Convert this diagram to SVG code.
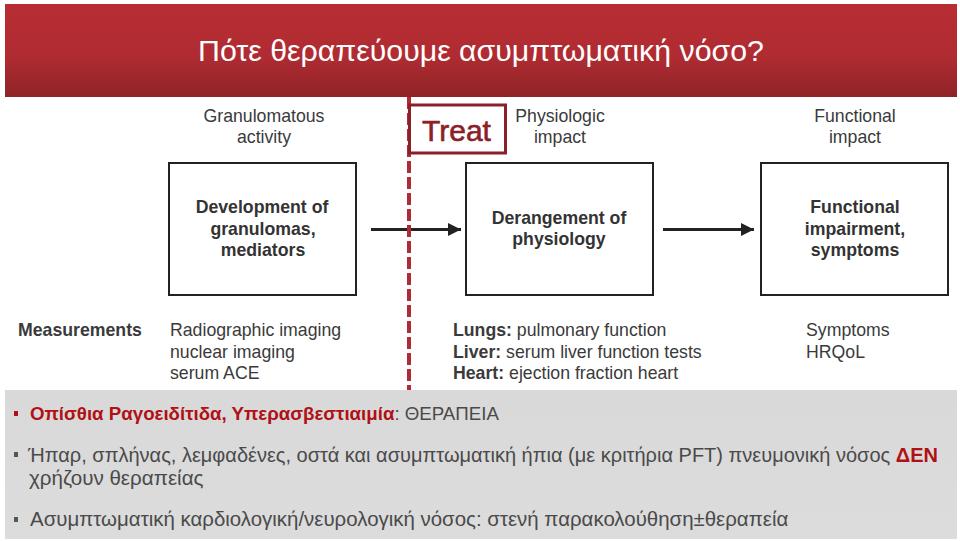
<svg xmlns="http://www.w3.org/2000/svg" width="960" height="541" viewBox="0 0 960 541">
<style>
text{font-family:"Liberation Sans",Arial,sans-serif;fill:#3a3a3a}
.h{font-size:17.700px;text-anchor:middle}
.b{font-size:17.700px;font-weight:bold;text-anchor:middle;fill:#333}
.m{font-size:17.700px}
.g{fill:#4a4a4a}
.r{fill:#b01116;font-weight:bold}
.box{fill:#fff;stroke:#222;stroke-width:2}
.sq{fill:#555}
</style>
<defs>
<linearGradient id="hd" x1="0" y1="0" x2="0" y2="1"><stop offset="0" stop-color="#b72d33"/><stop offset=".55" stop-color="#b02c32"/><stop offset="1" stop-color="#8f2327"/></linearGradient>
<linearGradient id="pn" x1="0" y1="0" x2="0" y2="1"><stop offset="0" stop-color="#d9d9d9"/><stop offset="1" stop-color="#dcdcdc"/></linearGradient>
<marker id="ah" markerUnits="userSpaceOnUse" markerWidth="14" markerHeight="16" refX="13" refY="8" orient="auto"><path d="M0 1.500L13 8L0 14.500Z" fill="#222"/></marker>
</defs>
<rect width="960" height="541" fill="#fff"/>
<rect x="5" y="4" width="952" height="93" fill="url(#hd)"/>
<text x="198" y="61" font-size="30.300" style="fill:#fff">Πότε θεραπεύουμε ασυμπτωματική νόσο?</text>
<g id="connectors">
<path d="M371 229.500H461" stroke="#222" stroke-width="3" fill="none" marker-end="url(#ah)"/>
<path d="M663 229.500H754" stroke="#222" stroke-width="3" fill="none" marker-end="url(#ah)"/>
<path d="M409 97V390" stroke="#b02a35" stroke-width="4" stroke-dasharray="12 4" fill="none"/>
</g>
<g id="node-granulomas"><rect class="box" x="169" y="163" width="187" height="132"/><text class="b" x="262" y="213">Development of</text><text class="b" x="263" y="235">granulomas,</text><text class="b" x="263" y="256">mediators</text></g>
<g id="node-physiology"><rect class="box" x="466" y="163" width="187" height="132"/><text class="b" x="559" y="224">Derangement of</text><text class="b" x="559" y="245">physiology</text></g>
<g id="node-functional"><rect class="box" x="761" y="163" width="187" height="132"/><text class="b" x="855" y="213">Functional</text><text class="b" x="855" y="235">impairment,</text><text class="b" x="855" y="256">symptoms</text></g>
<g id="node-treat"><rect x="409.500" y="105" width="96" height="48" fill="#fff" stroke="#8a2129" stroke-width="3"/><text x="456.500" y="141" font-size="30" text-anchor="middle" stroke="#8a2129" stroke-width=".6" style="fill:#8a2129">Treat</text></g>
<g id="labels">
<text class="h" x="264" y="122">Granulomatous</text><text class="h" x="264" y="143">activity</text>
<text class="h" x="560" y="122">Physiologic</text><text class="h" x="560" y="143">impact</text>
<text class="h" x="855" y="122">Functional</text><text class="h" x="855" y="143">impact</text>
<text class="m" x="18" y="336" font-weight="bold">Measurements</text>
<text class="m" x="170" y="336">Radiographic imaging</text><text class="m" x="170" y="358">nuclear imaging</text><text class="m" x="170" y="379">serum ACE</text>
<text class="m" x="453" y="336"><tspan font-weight="bold">Lungs:</tspan> pulmonary function</text>
<text class="m" x="453" y="358"><tspan font-weight="bold">Liver:</tspan> serum liver function tests</text>
<text class="m" x="453" y="379"><tspan font-weight="bold">Heart:</tspan> ejection fraction heart</text>
<text class="m" x="806" y="336">Symptoms</text><text class="m" x="806" y="358">HRQoL</text>
</g>
<rect x="5" y="390" width="952" height="149" fill="url(#pn)"/>
<g id="panel">
<rect x="14" y="411" width="4" height="5" fill="#b01116"/>
<text class="g" x="30" y="420" font-size="18.700"><tspan class="r">Οπίσθια Ραγοειδίτιδα, Υπερασβεστιαιμία</tspan>: ΘΕΡΑΠΕΙΑ</text>
<rect class="sq" x="14" y="452" width="4" height="5"/>
<text class="g" x="28" y="462" font-size="20">Ήπαρ, σπλήνας, λεμφαδένες, οστά και ασυμπτωματική ήπια (με κριτήρια PFT) πνευμονική νόσος <tspan class="r">ΔΕΝ</tspan></text>
<text class="g" x="29" y="485" font-size="20.600">χρήζουν θεραπείας</text>
<rect class="sq" x="14" y="517" width="4" height="5"/>
<text class="g" x="30" y="526" font-size="20.450">Ασυμπτωματική καρδιολογική/νευρολογική νόσος: στενή παρακολούθηση±θεραπεία</text>
</g>
</svg>
